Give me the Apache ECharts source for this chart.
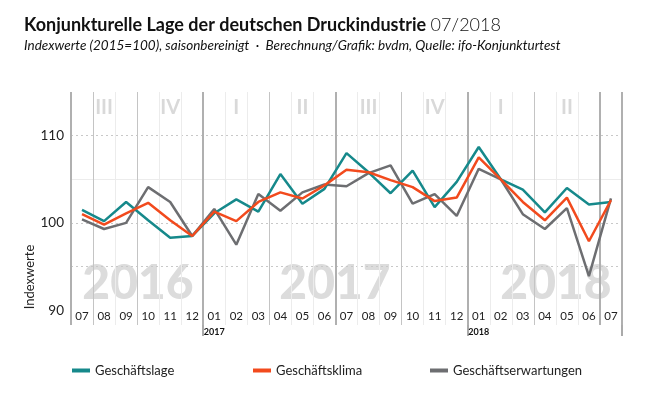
<!DOCTYPE html>
<html>
<head>
<meta charset="utf-8">
<script src="https://cdn.jsdelivr.net/npm/echarts@6.0.0/dist/echarts.min.js"></script>
<style>
    html, body { margin: 0; padding: 0; background: #fff; }
    #main { width: 652px; height: 397px; }
</style>
</head>
<body>
<div id="main"></div>
<script>
// Monate (x-Achse)
var months = ['07/2016','08/2016','09/2016','10/2016','11/2016','12/2016',
              '01/2017','02/2017','03/2017','04/2017','05/2017','06/2017',
              '07/2017','08/2017','09/2017','10/2017','11/2017','12/2017',
              '01/2018','02/2018','03/2018','04/2018','05/2018','06/2018','07/2018'];

// Indexwerte
var lage   = [101.5, 100.2, 102.4, 100.3, 98.3, 98.5,
              101.1, 102.7, 101.3, 105.6, 102.2, 103.9,
              108.0, 105.8, 103.4, 106.0, 101.8, 104.7,
              108.7, 105.0, 103.8, 101.2, 104.0, 102.1, 102.4];
var klima  = [101.0, 99.8, 101.1, 102.3, 100.3, 98.5,
              101.3, 100.2, 102.4, 103.5, 102.8, 104.3,
              106.1, 105.8, 104.9, 104.1, 102.5, 102.9,
              107.5, 105.0, 102.4, 100.3, 102.9, 97.9, 102.6];
var erwart = [100.4, 99.3, 100.0, 104.1, 102.4, 98.5,
              101.6, 97.5, 103.3, 101.4, 103.5, 104.4,
              104.2, 105.7, 106.6, 102.2, 103.3, 100.8,
              106.2, 105.0, 101.0, 99.3, 101.7, 93.9, 102.8];

// Quartale (oben) und Jahre
var quarters = ['III','IV','I','II','III','IV','I','II'];
var years = ['2016','2017','2018'];
var yTicks = [90, 100, 110];

var FONT = 'Lato, "Noto Sans", sans-serif';

// Farben der Monatslinien (Quartalsgrenzen etwas dunkler)
var vLineColors = [];
for (var i = 0; i <= months.length; i++) {
    vLineColors.push((i === 1 || i % 6 === 3) ? '#c4c4c4' : '#ececec');
}

var chart = echarts.init(document.getElementById('main'));

var option = {
    backgroundColor: '#fff',
    textStyle: { fontFamily: FONT },
    title: {
        left: 19,
        top: 11,
        text: '{b|Konjunkturelle Lage der deutschen Druckindustrie} {l|07/2018}',
        textStyle: {
            rich: {
                b: { fontFamily: FONT, fontSize: 18, fontWeight: 'bold', color: '#111' },
                l: { fontFamily: FONT, fontSize: 18, fontWeight: 300, color: '#111' }
            }
        },
        subtext: 'Indexwerte (2015=100), saisonbereinigt  ·  Berechnung/Grafik: bvdm, Quelle: ifo-Konjunkturtest',
        itemGap: 5,
        subtextStyle: { fontFamily: FONT, fontSize: 13.5, fontStyle: 'italic', color: '#111' }
    },
    legend: [
        { data: ['Geschäftslage'], left: 72 },
        { data: ['Geschäftsklima'], left: 253 },
        { data: ['Geschäftserwartungen'], left: 430 }
    ].map(function (l) {
        l.top = 364;
        l.padding = 0;
        l.icon = 'rect';
        l.itemWidth = 18;
        l.itemHeight = 4;
        l.textStyle = { fontFamily: FONT, fontSize: 13, color: '#222' };
        return l;
    }),
    grid: { left: 71, right: 30, top: 92, bottom: 72 },
    xAxis: [
        {   // Monatsbeschriftung und helle Linien
            type: 'category',
            data: months,
            position: 'bottom',
            axisLine: { show: false },
            axisTick: { show: false },
            axisLabel: {
                inside: true, interval: 0, margin: 3,
                color: '#222', fontSize: 11.5, fontFamily: FONT,
                formatter: function (v) { return v.slice(0, 2); }
            },
            splitLine: { show: true, interval: 0, lineStyle: { color: vLineColors, width: 1 } }
        },
        {   // Halbjahreslinien, Jahreswechsel
            type: 'category',
            data: months,
            position: 'bottom',
            axisLine: { show: false },
            axisTick: {
                show: true,
                interval: function (i) { return i === 6 || i === 18; },
                length: 11,
                lineStyle: { color: '#aaa', width: 2 }
            },
            axisLabel: {
                interval: function (i) { return i === 6 || i === 18; },
                margin: 3,
                color: '#111', fontSize: 9, fontWeight: 'bold', fontFamily: FONT,
                formatter: function (v) { return v.slice(3); }
            },
            splitLine: {
                show: true,
                interval: function (i) { return i % 6 === 0; },
                lineStyle: { color: '#b0b0b0', width: 2 }
            }
        },
        {   // Quartale oben
            type: 'category',
            data: months,
            position: 'top',
            axisLine: { show: false },
            axisTick: { show: false },
            axisLabel: {
                inside: true,
                interval: function (i) { return i % 3 === 1; },
                margin: 6,
                color: '#d9d9d9', fontSize: 20, fontWeight: 'bold', fontFamily: FONT,
                formatter: function (v, i) { return quarters[(i - 1) / 3]; }
            }
        }
    ],
    yAxis: [
        {
            type: 'value',
            min: 88.3,
            max: 115,
            axisLine: { show: false },
            axisTick: { show: false, customValues: [95, 100, 110] },
            axisLabel: { customValues: yTicks, color: '#222', fontSize: 13.5, margin: 7, fontFamily: FONT },
            splitLine: { show: true, lineStyle: { type: [2, 3], color: '#c8c8c8', width: 1 } }
        },
        {
            type: 'value',
            min: 88.3,
            max: 115,
            position: 'left',
            axisLine: { show: false },
            axisTick: { show: false, customValues: [105] },
            axisLabel: { show: false },
            splitLine: { show: true, lineStyle: { color: '#ececec', width: 1 } }
        }
    ],
    graphic: years.map(function (y, k) {
        return {
            type: 'text',
            z: -1,
            x: [138, 335, 556][k],
            y: 284,
            style: {
                text: y,
                font: '900 48px ' + FONT,
                fill: '#dcdcdc',
                textAlign: 'center',
                textVerticalAlign: 'middle'
            }
        };
    }).concat([{
        type: 'text',
        x: 30,
        y: 277,
        rotation: Math.PI / 2,
        style: {
            text: 'Indexwerte',
            font: '13px ' + FONT,
            fill: '#222',
            textAlign: 'center',
            textVerticalAlign: 'middle'
        }
    }]),
    series: [
        { name: 'Geschäftserwartungen', type: 'line', data: erwart, color: '#6d6e71' },
        { name: 'Geschäftslage', type: 'line', data: lage, color: '#16898b' },
        { name: 'Geschäftsklima', type: 'line', data: klima, color: '#f24a1d' }
    ].map(function (s) {
        s.symbol = 'none';
        s.lineStyle = { width: 2.5 };
        s.animation = false;
        return s;
    })
};

chart.setOption(option);
</script>
</body>
</html>
